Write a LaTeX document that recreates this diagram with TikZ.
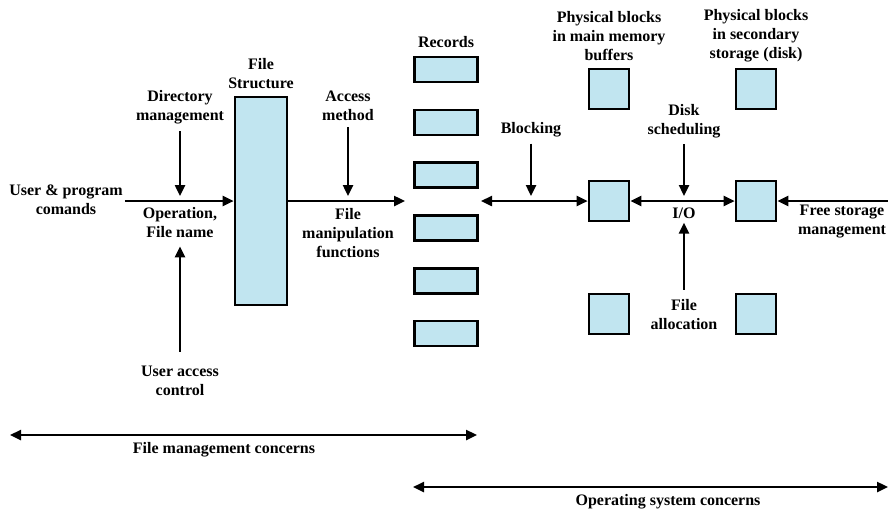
\documentclass[tikz,border=0pt]{standalone}
\usepackage{fontspec}
\setmainfont{Liberation Serif}
\usetikzlibrary{arrows.meta}

\definecolor{blockblue}{RGB}{193,229,240}

\tikzset{
  lbl/.style={align=center, font=\fontsize{16}{19}\selectfont\bfseries, inner sep=2pt},
  arr/.style={-{Triangle[length=11pt,width=10pt]}, line width=2.4pt},
  darr/.style={{Triangle[length=11pt,width=10pt]}-{Triangle[length=11pt,width=10pt]}, line width=2.4pt},
  blk/.style={draw, line width=2.6pt, fill=blockblue, inner sep=0pt},
}

\begin{document}
\begin{tikzpicture}[x=1pt,y=-1pt]
    \useasboundingbox (0,0) rectangle (888,512);
    % File structure
    \node[blk, minimum width=52, minimum height=208] (fs) at (261,201) {};
    \node[lbl] (fslbl) at (261,74) {File\\Structure};
    % Labels, left part
    \node[lbl] (userlbl) at (66,200) {User \& program\\comands};
    \node[lbl] (dirlbl) at (180,107) {Directory\\management};
    \node[lbl] (oplbl) at (180,223) {Operation,\\File name};
    \node[lbl] (uaclbl) at (180,381) {User access\\control};
    \node[lbl] (acclbl) at (348,106) {Access\\method};
    \node[lbl] (fmflbl) at (348,233) {File\\manipulation\\functions};
    % Records
    \node[lbl] (reclbl) at (446,42) {Records};
    \foreach \i in {1,...,6}
        \node[blk, minimum width=63, minimum height=25] (rec\i) at (446,69.5+52.8*\i-52.8) {};
    \node[lbl] (blklbl) at (531,130) {Blocking};
    % Physical blocks
    \node[lbl] (pmlbl) at (609,36) {Physical blocks\\in main memory\\buffers};
    \node[lbl] (pslbl) at (756,36) {Physical blocks\\in secondary\\storage (disk)};
    \foreach \n/\y in {1/89,2/201,3/314} {
        \node[blk, minimum size=40] (mm\n) at (609,\y) {};
        \node[blk, minimum size=40] (sec\n) at (756,\y) {};
    }
    \node[lbl] (dslbl) at (684,121) {Disk\\scheduling};
    \node[lbl] (iolbl) at (684,213) {I/O};
    \node[lbl] (falbl) at (684,315) {File\\allocation};
    \node[lbl] (fsmlbl) at (842,222) {Free storage\\management};
    % Concerns
    \node[lbl] (fmclbl) at (224,450) {File management concerns};
    \node[lbl] (osclbl) at (668,502) {Operating system concerns};
    % Free ends
    \coordinate (dirtip) at (180,196);
    \coordinate (acctip) at (348,196);
    \coordinate (blktip) at (531,196);
    \coordinate (dstip) at (684,196);
    \coordinate (recin) at (405,201);
    \coordinate (recout) at (481,201);
    \coordinate (freein) at (888,201);
    \coordinate (fmcl) at (10,435);
    \coordinate (fmcr) at (477,435);
    \coordinate (oscl) at (413,487);
    \coordinate (oscr) at (888,487);
    % Arrows
    \draw[arr] (userlbl.east |- fs.west) -- (fs.west);
    \draw[arr, shorten <=5pt] (dirlbl.south) -- (dirtip);
    \draw[arr, shorten <=12pt, shorten >=6pt] (uaclbl.north) -- (oplbl.south);
    \draw[arr] (fs.east) -- (recin);
    \draw[arr, shorten <=4pt] (acclbl.south) -- (acctip);
    \draw[darr] (recout) -- (mm2.west);
    \draw[arr, shorten <=4pt] (blklbl.south) -- (blktip);
    \draw[darr] (mm2.east) -- (sec2.west);
    \draw[arr, shorten <=4pt] (dslbl.south) -- (dstip);
    \draw[arr, shorten <=8pt, shorten >=2pt] (falbl.north) -- (iolbl.south);
    \draw[arr] (freein) -- (sec2.east);
    \draw[darr] (fmcl) -- (fmcr);
    \draw[darr] (oscl) -- (oscr);
\end{tikzpicture}
\end{document}
